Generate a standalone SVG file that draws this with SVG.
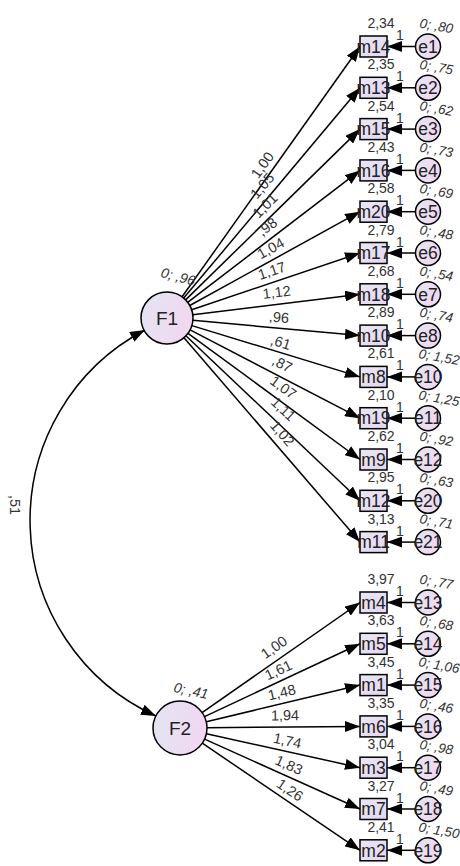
<svg xmlns="http://www.w3.org/2000/svg" width="460" height="866" viewBox="0 0 460 866">
<defs>
<linearGradient id="gc" x1="0" y1="0" x2="1" y2="0.3"><stop offset="0" stop-color="#e3e5f4"/><stop offset="1" stop-color="#f0d8f0"/></linearGradient>
<linearGradient id="gb" x1="0" y1="0" x2="1" y2="1"><stop offset="0" stop-color="#ebe6f6"/><stop offset="1" stop-color="#e2d6ef"/></linearGradient>
<marker id="ah" viewBox="0 0 15 11" refX="15" refY="5.5" markerWidth="15" markerHeight="11" markerUnits="userSpaceOnUse" orient="auto-start-reverse"><path d="M0,0 L15,5.5 L0,11 z" fill="#000"/></marker>
<style>
.box{fill:url(#gb);stroke:#000;stroke-width:1.5}
.lat{fill:url(#gc);stroke:#000;stroke-width:1.5}
.ln{stroke:#000;stroke-width:1.5;fill:none;marker-end:url(#ah)}
.cov{stroke:#000;stroke-width:1.5;fill:none;marker-end:url(#ah);marker-start:url(#ah)}
text{font-family:"Liberation Sans",Arial,sans-serif}
.nm{font-size:17.5px;fill:#222;text-anchor:middle}
.fn{font-size:19px;fill:#222;text-anchor:middle}
.num{font-size:14px;fill:#333;text-anchor:middle}
.one{font-size:14px;fill:#333;text-anchor:middle}
.var{font-size:13.5px;fill:#333;font-style:italic;text-anchor:start}
.fv{font-size:14px;fill:#333;font-style:italic;text-anchor:middle}
.ld{font-size:14.5px;fill:#333;text-anchor:middle}
</style>
</defs>
<rect width="460" height="866" fill="#fff"/>

<g id="connectors">
<path class="cov" d="M145,330 A215,215 0 0 0 156,716"/>
<line class="ln" x1="182.1" y1="296.8" x2="360" y2="46.5"/>
<line class="ln" x1="183.7" y1="298.1" x2="360" y2="87.8"/>
<line class="ln" x1="185.6" y1="299.9" x2="360" y2="129.1"/>
<line class="ln" x1="187.7" y1="302.3" x2="360" y2="170.4"/>
<line class="ln" x1="189.8" y1="305.5" x2="360" y2="211.7"/>
<line class="ln" x1="191.7" y1="309.7" x2="360" y2="253"/>
<line class="ln" x1="192.8" y1="314.8" x2="360" y2="294.3"/>
<line class="ln" x1="192.9" y1="320.3" x2="360" y2="335.6"/>
<line class="ln" x1="191.9" y1="325.6" x2="360" y2="376.9"/>
<line class="ln" x1="190.1" y1="329.9" x2="360" y2="418.2"/>
<line class="ln" x1="188" y1="333.3" x2="360" y2="459.5"/>
<line class="ln" x1="185.9" y1="335.8" x2="360" y2="500.8"/>
<line class="ln" x1="184" y1="337.7" x2="360" y2="542.1"/>
<line class="ln" x1="202.1" y1="712.6" x2="360" y2="602.5"/>
<line class="ln" x1="204.5" y1="716.6" x2="360" y2="643.8"/>
<line class="ln" x1="206.3" y1="721.7" x2="360" y2="685.1"/>
<line class="ln" x1="207" y1="727.8" x2="360" y2="726.4"/>
<line class="ln" x1="206.4" y1="733.8" x2="360" y2="767.7"/>
<line class="ln" x1="204.6" y1="739.1" x2="360" y2="809"/>
<line class="ln" x1="202.3" y1="743.2" x2="360" y2="850.3"/>
<line class="ln" x1="415.5" y1="46.5" x2="387" y2="46.5"/>
<line class="ln" x1="415.5" y1="87.8" x2="387" y2="87.8"/>
<line class="ln" x1="415.5" y1="129.1" x2="387" y2="129.1"/>
<line class="ln" x1="415.5" y1="170.4" x2="387" y2="170.4"/>
<line class="ln" x1="415.5" y1="211.7" x2="387" y2="211.7"/>
<line class="ln" x1="415.5" y1="253" x2="387" y2="253"/>
<line class="ln" x1="415.5" y1="294.3" x2="387" y2="294.3"/>
<line class="ln" x1="415.5" y1="335.6" x2="387" y2="335.6"/>
<line class="ln" x1="415.5" y1="376.9" x2="387" y2="376.9"/>
<line class="ln" x1="415.5" y1="418.2" x2="387" y2="418.2"/>
<line class="ln" x1="415.5" y1="459.5" x2="387" y2="459.5"/>
<line class="ln" x1="415.5" y1="500.8" x2="387" y2="500.8"/>
<line class="ln" x1="415.5" y1="542.1" x2="387" y2="542.1"/>
<line class="ln" x1="415.5" y1="602.5" x2="387" y2="602.5"/>
<line class="ln" x1="415.5" y1="643.8" x2="387" y2="643.8"/>
<line class="ln" x1="415.5" y1="685.1" x2="387" y2="685.1"/>
<line class="ln" x1="415.5" y1="726.4" x2="387" y2="726.4"/>
<line class="ln" x1="415.5" y1="767.7" x2="387" y2="767.7"/>
<line class="ln" x1="415.5" y1="809" x2="387" y2="809"/>
<line class="ln" x1="415.5" y1="850.3" x2="387" y2="850.3"/>
<text class="ld" transform="translate(15,505) rotate(90)" y="5">,51</text>
<text class="ld" transform="translate(262.3,165) rotate(-54.45)" y="5">1,00</text>
<text class="ld" transform="translate(262.3,185.7) rotate(-49.88)" y="5">1,05</text>
<text class="ld" transform="translate(265,205.5) rotate(-44.23)" y="5">1,01</text>
<text class="ld" transform="translate(267.3,226.7) rotate(-37.26)" y="5">,98</text>
<text class="ld" transform="translate(270.7,248.3) rotate(-28.72)" y="5">1,04</text>
<text class="ld" transform="translate(271.7,270.7) rotate(-18.52)" y="5">1,17</text>
<text class="ld" transform="translate(276.7,292.3) rotate(-6.96)" y="5">1,12</text>
<text class="ld" transform="translate(279,317.3) rotate(5.18)" y="5">,96</text>
<text class="ld" transform="translate(280.7,342.3) rotate(16.89)" y="5">,61</text>
<text class="ld" transform="translate(282.3,364) rotate(27.31)" y="5">,87</text>
<text class="ld" transform="translate(283.3,387.3) rotate(36.11)" y="5">1,07</text>
<text class="ld" transform="translate(283.3,409) rotate(43.3)" y="5">1,11</text>
<text class="ld" transform="translate(282.3,433.3) rotate(49.12)" y="5">1,02</text>
<text class="ld" transform="translate(274,647.3) rotate(-34.89)" y="5">1,00</text>
<text class="ld" transform="translate(278.3,670) rotate(-25.07)" y="5">1,61</text>
<text class="ld" transform="translate(281.7,692.3) rotate(-13.41)" y="5">1,48</text>
<text class="ld" transform="translate(285,715.3) rotate(-0.5)" y="5">1,94</text>
<text class="ld" transform="translate(287.3,740.7) rotate(12.44)" y="5">1,74</text>
<text class="ld" transform="translate(289,765) rotate(24.23)" y="5">1,83</text>
<text class="ld" transform="translate(290,790) rotate(34.19)" y="5">1,26</text>
<text class="one" x="400" y="40">1</text>
<text class="one" x="400" y="81.3">1</text>
<text class="one" x="400" y="122.6">1</text>
<text class="one" x="400" y="163.9">1</text>
<text class="one" x="400" y="205.2">1</text>
<text class="one" x="400" y="246.5">1</text>
<text class="one" x="400" y="287.8">1</text>
<text class="one" x="400" y="329.1">1</text>
<text class="one" x="400" y="370.4">1</text>
<text class="one" x="400" y="411.7">1</text>
<text class="one" x="400" y="453">1</text>
<text class="one" x="400" y="494.3">1</text>
<text class="one" x="400" y="535.6">1</text>
<text class="one" x="400" y="596">1</text>
<text class="one" x="400" y="637.3">1</text>
<text class="one" x="400" y="678.6">1</text>
<text class="one" x="400" y="719.9">1</text>
<text class="one" x="400" y="761.2">1</text>
<text class="one" x="400" y="802.5">1</text>
<text class="one" x="400" y="843.8">1</text>
</g>

<g id="F1"><circle class="lat" cx="167" cy="318" r="26"/><text class="fn" x="167" y="325">F1</text><text class="fv" transform="translate(178,277) rotate(15)" y="4.5">0; ,96</text></g>
<g id="F2"><circle class="lat" cx="180" cy="728" r="27"/><text class="fn" x="180" y="735">F2</text><text class="fv" transform="translate(191,691) rotate(12)" y="4.5">0; ,41</text></g>

<g id="m14"><rect class="box" x="360" y="36" width="27" height="21"/><text class="nm" x="373.5" y="52.7">m14</text><text class="num" x="381" y="28">2,34</text></g>
<g id="m13"><rect class="box" x="360" y="77.3" width="27" height="21"/><text class="nm" x="373.5" y="94">m13</text><text class="num" x="381" y="69.3">2,35</text></g>
<g id="m15"><rect class="box" x="360" y="118.6" width="27" height="21"/><text class="nm" x="373.5" y="135.3">m15</text><text class="num" x="381" y="110.6">2,54</text></g>
<g id="m16"><rect class="box" x="360" y="159.9" width="27" height="21"/><text class="nm" x="373.5" y="176.6">m16</text><text class="num" x="381" y="151.9">2,43</text></g>
<g id="m20"><rect class="box" x="360" y="201.2" width="27" height="21"/><text class="nm" x="373.5" y="217.9">m20</text><text class="num" x="381" y="193.2">2,58</text></g>
<g id="m17"><rect class="box" x="360" y="242.5" width="27" height="21"/><text class="nm" x="373.5" y="259.2">m17</text><text class="num" x="381" y="234.5">2,79</text></g>
<g id="m18"><rect class="box" x="360" y="283.8" width="27" height="21"/><text class="nm" x="373.5" y="300.5">m18</text><text class="num" x="381" y="275.8">2,68</text></g>
<g id="m10"><rect class="box" x="360" y="325.1" width="27" height="21"/><text class="nm" x="373.5" y="341.8">m10</text><text class="num" x="381" y="317.1">2,89</text></g>
<g id="m8"><rect class="box" x="360" y="366.4" width="27" height="21"/><text class="nm" x="373.5" y="383.1">m8</text><text class="num" x="381" y="358.4">2,61</text></g>
<g id="m19"><rect class="box" x="360" y="407.7" width="27" height="21"/><text class="nm" x="373.5" y="424.4">m19</text><text class="num" x="381" y="399.7">2,10</text></g>
<g id="m9"><rect class="box" x="360" y="449" width="27" height="21"/><text class="nm" x="373.5" y="465.7">m9</text><text class="num" x="381" y="441">2,62</text></g>
<g id="m12"><rect class="box" x="360" y="490.3" width="27" height="21"/><text class="nm" x="373.5" y="507">m12</text><text class="num" x="381" y="482.3">2,95</text></g>
<g id="m11"><rect class="box" x="360" y="531.6" width="27" height="21"/><text class="nm" x="373.5" y="548.3">m11</text><text class="num" x="381" y="523.6">3,13</text></g>
<g id="m4"><rect class="box" x="360" y="592" width="27" height="21"/><text class="nm" x="373.5" y="608.7">m4</text><text class="num" x="381" y="584">3,97</text></g>
<g id="m5"><rect class="box" x="360" y="633.3" width="27" height="21"/><text class="nm" x="373.5" y="650">m5</text><text class="num" x="381" y="625.3">3,63</text></g>
<g id="m1"><rect class="box" x="360" y="674.6" width="27" height="21"/><text class="nm" x="373.5" y="691.3">m1</text><text class="num" x="381" y="666.6">3,45</text></g>
<g id="m6"><rect class="box" x="360" y="715.9" width="27" height="21"/><text class="nm" x="373.5" y="732.6">m6</text><text class="num" x="381" y="707.9">3,35</text></g>
<g id="m3"><rect class="box" x="360" y="757.2" width="27" height="21"/><text class="nm" x="373.5" y="773.9">m3</text><text class="num" x="381" y="749.2">3,04</text></g>
<g id="m7"><rect class="box" x="360" y="798.5" width="27" height="21"/><text class="nm" x="373.5" y="815.2">m7</text><text class="num" x="381" y="790.5">3,27</text></g>
<g id="m2"><rect class="box" x="360" y="839.8" width="27" height="21"/><text class="nm" x="373.5" y="856.5">m2</text><text class="num" x="381" y="831.8">2,41</text></g>

<g id="e1"><circle class="lat" cx="428" cy="46.5" r="12.5"/><text class="nm" x="428" y="52.7">e1</text><text class="var" transform="translate(419,27.5) rotate(10)">0; ,80</text></g>
<g id="e2"><circle class="lat" cx="428" cy="87.8" r="12.5"/><text class="nm" x="428" y="94">e2</text><text class="var" transform="translate(419,68.8) rotate(10)">0; ,75</text></g>
<g id="e3"><circle class="lat" cx="428" cy="129.1" r="12.5"/><text class="nm" x="428" y="135.3">e3</text><text class="var" transform="translate(419,110.1) rotate(10)">0; ,62</text></g>
<g id="e4"><circle class="lat" cx="428" cy="170.4" r="12.5"/><text class="nm" x="428" y="176.6">e4</text><text class="var" transform="translate(419,151.4) rotate(10)">0; ,73</text></g>
<g id="e5"><circle class="lat" cx="428" cy="211.7" r="12.5"/><text class="nm" x="428" y="217.9">e5</text><text class="var" transform="translate(419,192.7) rotate(10)">0; ,69</text></g>
<g id="e6"><circle class="lat" cx="428" cy="253" r="12.5"/><text class="nm" x="428" y="259.2">e6</text><text class="var" transform="translate(419,234) rotate(10)">0; ,48</text></g>
<g id="e7"><circle class="lat" cx="428" cy="294.3" r="12.5"/><text class="nm" x="428" y="300.5">e7</text><text class="var" transform="translate(419,275.3) rotate(10)">0; ,54</text></g>
<g id="e8"><circle class="lat" cx="428" cy="335.6" r="12.5"/><text class="nm" x="428" y="341.8">e8</text><text class="var" transform="translate(419,316.6) rotate(10)">0; ,74</text></g>
<g id="e10"><circle class="lat" cx="428" cy="376.9" r="12.5"/><text class="nm" x="428" y="383.1">e10</text><text class="var" transform="translate(418,357.9) rotate(10)">0; 1,52</text></g>
<g id="e11"><circle class="lat" cx="428" cy="418.2" r="12.5"/><text class="nm" x="428" y="424.4">e11</text><text class="var" transform="translate(418,399.2) rotate(10)">0; 1,25</text></g>
<g id="e12"><circle class="lat" cx="428" cy="459.5" r="12.5"/><text class="nm" x="428" y="465.7">e12</text><text class="var" transform="translate(419,440.5) rotate(10)">0; ,92</text></g>
<g id="e20"><circle class="lat" cx="428" cy="500.8" r="12.5"/><text class="nm" x="428" y="507">e20</text><text class="var" transform="translate(419,481.8) rotate(10)">0; ,63</text></g>
<g id="e21"><circle class="lat" cx="428" cy="542.1" r="12.5"/><text class="nm" x="428" y="548.3">e21</text><text class="var" transform="translate(419,523.1) rotate(10)">0; ,71</text></g>
<g id="e13"><circle class="lat" cx="428" cy="602.5" r="12.5"/><text class="nm" x="428" y="608.7">e13</text><text class="var" transform="translate(419,583.5) rotate(10)">0; ,77</text></g>
<g id="e14"><circle class="lat" cx="428" cy="643.8" r="12.5"/><text class="nm" x="428" y="650">e14</text><text class="var" transform="translate(419,624.8) rotate(10)">0; ,68</text></g>
<g id="e15"><circle class="lat" cx="428" cy="685.1" r="12.5"/><text class="nm" x="428" y="691.3">e15</text><text class="var" transform="translate(418,666.1) rotate(10)">0; 1,06</text></g>
<g id="e16"><circle class="lat" cx="428" cy="726.4" r="12.5"/><text class="nm" x="428" y="732.6">e16</text><text class="var" transform="translate(419,707.4) rotate(10)">0; ,46</text></g>
<g id="e17"><circle class="lat" cx="428" cy="767.7" r="12.5"/><text class="nm" x="428" y="773.9">e17</text><text class="var" transform="translate(419,748.7) rotate(10)">0; ,98</text></g>
<g id="e18"><circle class="lat" cx="428" cy="809" r="12.5"/><text class="nm" x="428" y="815.2">e18</text><text class="var" transform="translate(419,790) rotate(10)">0; ,49</text></g>
<g id="e19"><circle class="lat" cx="428" cy="850.3" r="12.5"/><text class="nm" x="428" y="856.5">e19</text><text class="var" transform="translate(418,831.3) rotate(10)">0; 1,50</text></g>
</svg>
